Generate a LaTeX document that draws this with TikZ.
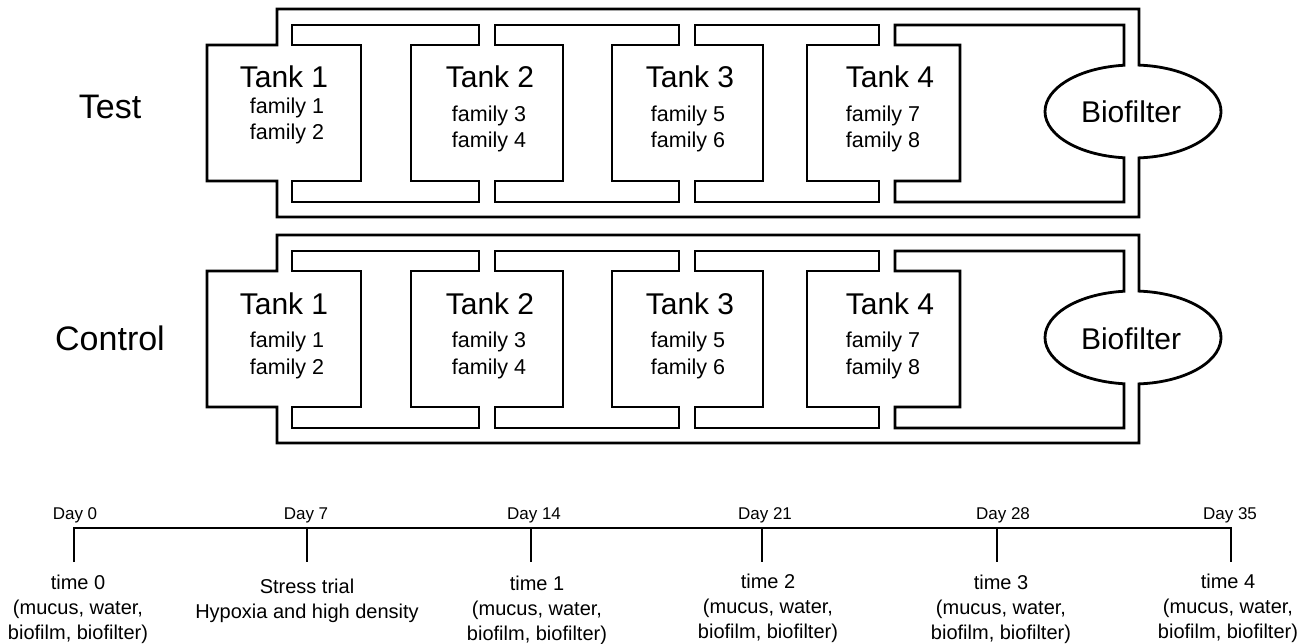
\documentclass[tikz,border=0pt]{standalone}
\usepackage{fontspec}
\setmainfont{Liberation Sans}
\begin{document}
\begin{tikzpicture}[x=1pt,y=-1pt]
\tikzset{
  pipe/.style={draw=black, line width=2.8pt, line join=miter},
  tline/.style={draw=black, line width=2.8pt, line join=miter},
  sidelab/.style={anchor=base, inner sep=0pt, font=\fontsize{34}{40}\selectfont},
  tanklab/.style={anchor=base, inner sep=0pt, font=\fontsize{30}{36}\selectfont},
  famlab/.style={anchor=base, inner sep=0pt, align=center, font=\fontsize{21.5}{26.5}\selectfont},
  biolab/.style={anchor=base, inner sep=0pt, font=\fontsize{30}{36}\selectfont},
  daylab/.style={anchor=base, inner sep=0pt, font=\fontsize{17}{20}\selectfont},
  timelab/.style={anchor=base, inner sep=0pt, align=center, font=\fontsize{20}{24.8}\selectfont}
}
\useasboundingbox (0,0) rectangle (1305,644);

% anchor=base of a multi-line node sits on its last line
\foreach \sy/\lab/\nm/\tb/\fb in {0/Test/a/119/140, 226/Control/b/124/148}{
  \begin{scope}[shift={(0,\sy)}]
    % outer loop with tank 1 left half and biofilter right half
    \draw[pipe] (277,45) -- (207,45) -- (207,181) -- (277,181) -- (277,217)
      -- (1139,217) -- (1139,157.89)
      arc[start angle=-86.09, end angle=86.09, x radius=88pt, y radius=46.5pt]
      -- (1139,9) -- (277,9) -- cycle;
    % tank 1 / tank 2
    \draw[pipe] (292,45) -- (361,45) -- (361,181) -- (292,181) -- (292,202)
      -- (479,202) -- (479,181) -- (411,181) -- (411,45) -- (479,45)
      -- (479,25) -- (292,25) -- cycle;
    % tank 2 / tank 3
    \draw[pipe] (495,45) -- (563,45) -- (563,181) -- (495,181) -- (495,202)
      -- (679,202) -- (679,181) -- (612,181) -- (612,45) -- (679,45)
      -- (679,25) -- (495,25) -- cycle;
    % tank 3 / tank 4
    \draw[pipe] (695,45) -- (763,45) -- (763,181) -- (695,181) -- (695,202)
      -- (879,202) -- (879,181) -- (807,181) -- (807,45) -- (879,45)
      -- (879,25) -- (695,25) -- cycle;
    % tank 4 / biofilter
    \draw[pipe] (895,45) -- (960,45) -- (960,181) -- (895,181) -- (895,202)
      -- (1124,202) -- (1124,157.76)
      arc[start angle=264.13, end angle=95.87, x radius=88pt, y radius=46.5pt]
      -- (1124,25) -- (895,25) -- cycle;

    \node[sidelab] (side\nm) at (110,\tb) {\lab};
    \node[tanklab] (tank1\nm) at (284,88) {Tank 1};
    \node[tanklab] (tank2\nm) at (490,88) {Tank 2};
    \node[tanklab] (tank3\nm) at (690,88) {Tank 3};
    \node[tanklab] (tank4\nm) at (890,88) {Tank 4};
    \node[famlab] (fam1\nm) at (287,\fb) {family 1\\family 2};
    \node[famlab] (fam2\nm) at (489,148) {family 3\\family 4};
    \node[famlab] (fam3\nm) at (688,148) {family 5\\family 6};
    \node[famlab] (fam4\nm) at (883,148) {family 7\\family 8};
    \node[biolab] (bio\nm) at (1131,123) {Biofilter};
  \end{scope}
}

% timeline
\coordinate (d0) at (74,528);   \coordinate (e0) at (74,562);
\coordinate (d1) at (307,528);  \coordinate (e1) at (307,562);
\coordinate (d2) at (531,528);  \coordinate (e2) at (531,562);
\coordinate (d3) at (762,528);  \coordinate (e3) at (762,562);
\coordinate (d4) at (997,528);  \coordinate (e4) at (997,562);
\coordinate (d5) at (1231,528); \coordinate (e5) at (1231,562);
\draw[tline] (e0) -- (d0) -- (d5) -- (e5);
\foreach \i in {1,2,3,4}{\draw[tline] (d\i) -- (e\i);}

\node[daylab] (day0) at (75,519) {Day 0};
\node[daylab] (day7) at (306,519) {Day 7};
\node[daylab] (day14) at (534,519) {Day 14};
\node[daylab] (day21) at (765,519) {Day 21};
\node[daylab] (day28) at (1003,519) {Day 28};
\node[daylab] (day35) at (1230,519) {Day 35};

\node[timelab] (t0) at (78,639) {time 0\\(mucus, water,\\biofilm, biofilter)};
\node[timelab] (stress) at (307,618) {Stress trial\\Hypoxia and high density};
\node[timelab] (t1) at (537,640) {time 1\\(mucus, water,\\biofilm, biofilter)};
\node[timelab] (t2) at (768,638) {time 2\\(mucus, water,\\biofilm, biofilter)};
\node[timelab] (t3) at (1001,639) {time 3\\(mucus, water,\\biofilm, biofilter)};
\node[timelab] (t4) at (1228,638) {time 4\\(mucus, water,\\biofilm, biofilter)};
\end{tikzpicture}
\end{document}
